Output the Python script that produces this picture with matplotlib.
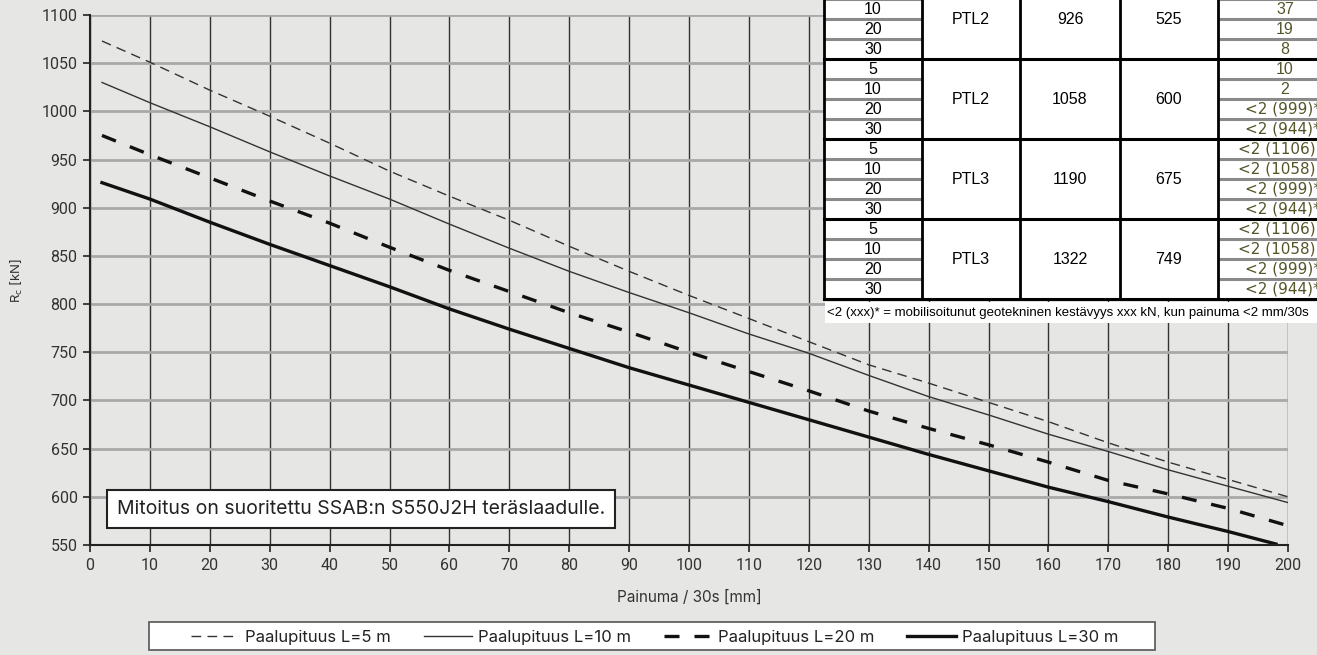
import matplotlib.pyplot as plt
from matplotlib.lines import Line2D
from matplotlib.patches import Rectangle

# painuma / 30s [mm] and R_c [kN]
painuma = [2, 10, 20, 30, 40, 50, 60, 70, 80, 90, 100,
           110, 120, 130, 140, 150, 160, 170, 180, 190, 200]
rc_l5 = [1073, 1051, 1022, 995, 967, 938, 912, 887, 860, 834, 809,
         785, 761, 737, 718, 698, 678, 656, 636, 618, 600]
rc_l10 = [1030, 1009, 984, 958, 933, 909, 883, 858, 834, 812, 791,
          769, 749, 726, 704, 685, 665, 647, 628, 611, 594]
rc_l20 = [975, 955, 931, 907, 884, 859, 835, 813, 791, 771, 750,
          730, 710, 689, 671, 654, 636, 617, 603, 588, 570]
painuma_l30 = [2, 10, 20, 30, 40, 50, 60, 70, 80, 90, 100,
               110, 120, 130, 140, 150, 160, 170, 180, 190, 198]
rc_l30 = [926, 909, 885, 862, 840, 818, 795, 774, 754, 734, 716,
          698, 680, 662, 644, 627, 610, 595, 579, 564, 551]

legend_labels = ['Paalupituus L=5 m', 'Paalupituus L=10 m',
                 'Paalupituus L=20 m', 'Paalupituus L=30 m']

# table (top of it is cut off in the picture)
tbl_pituus = ['5', '10', '20', '30']
tbl_ptl = ['PTL2', 'PTL2', 'PTL3', 'PTL3']
tbl_col3 = ['926', '1058', '1190', '1322']
tbl_col4 = ['525', '600', '675', '749']
tbl_last = [['', '37', '19', '8'],
            ['10', '2', '<2 (999)*', '<2 (944)*'],
            ['<2 (1106)', '<2 (1058)', '<2 (999)*', '<2 (944)*'],
            ['<2 (1106)', '<2 (1058)', '<2 (999)*', '<2 (944)*']]
footnote = '<2 (xxx)* = mobilisoitunut geotekninen kestävyys xxx kN, kun painuma <2 mm/30s'
note = 'Mitoitus on suoritettu SSAB:n S550J2H teräslaadulle.'

W, H = 1317, 655
bg = '#e6e7e4'
plt.rcParams['font.family'] = ['Inter', 'DejaVu Sans']

fig = plt.figure(figsize=(W / 100, H / 100), dpi=100, facecolor=bg)
ax = fig.add_axes([90 / W, (H - 545) / H, (1288 - 90) / W, 530 / H])
ax.set_facecolor(bg)

ax.plot(painuma, rc_l5, color='#333333', lw=1.0, ls=(0, (7, 4.5)))
ax.plot(painuma, rc_l10, color='#333333', lw=1.0)
ax.plot(painuma, rc_l20, color='#111111', lw=2.4, ls=(0, (4.5, 4.5)))
ax.plot(painuma_l30, rc_l30, color='#111111', lw=2.4)

ax.set_xlim(0, 200)
ax.set_ylim(550, 1100)
ax.set_xticks(range(0, 201, 10))
ax.set_yticks(range(550, 1101, 50))
ax.grid(axis='x', color='#333333', lw=1.0)
ax.grid(axis='y', color='#a9a9a9', lw=2.0)
ax.set_axisbelow(True)
for s in ['top', 'right']:
    ax.spines[s].set_visible(False)
for s in ['left', 'bottom']:
    ax.spines[s].set_color('#222222')
    ax.spines[s].set_linewidth(1.5)
ax.tick_params(length=5, width=1.2, color='#222222', labelcolor='#333333', pad=4)
for lab in ax.get_xticklabels() + ax.get_yticklabels():
    lab.set_family(['Roboto', 'DejaVu Sans'])
    lab.set_fontsize(11.5)
ax.set_xlabel('Painuma / 30s [mm]', fontsize=11, color='#333333', labelpad=12)
ax.set_ylabel('R$_\\mathrm{c}$ [kN]', fontsize=9.5, color='#333333', labelpad=12)

# overlay in pixel coordinates for table, note box, footnote and legend frame
tax = fig.add_axes([0, 0, 1, 1])
tax.set_xlim(0, W)
tax.set_ylim(H, 0)
tax.axis('off')
tax.patch.set_alpha(0)

tfont = ['Liberation Sans', 'DejaVu Sans']
x_edges = [824, 922, 1020, 1120, 1218, 1340]
row_h = 20
top = -21
tax.add_patch(Rectangle((x_edges[0], top), x_edges[-1] - x_edges[0], 16 * row_h,
                        fc='white', ec='none', zorder=3))
for g in range(4):
    g_top = top + g * 4 * row_h
    for r in range(1, 4):
        y = g_top + r * row_h
        for x0, x1 in [(x_edges[0], x_edges[1]), (x_edges[4], x_edges[5])]:
            tax.plot([x0, x1], [y, y], color='#8a8a8a', lw=2.2, zorder=4,
                     solid_capstyle='butt')
    for r in range(4):
        yc = g_top + r * row_h + row_h / 2 + 0.5
        tax.text(873, yc, tbl_pituus[r], ha='center', va='center',
                 fontsize=11.5, family=tfont, zorder=5)
        s = tbl_last[g][r]
        if s.startswith('<'):
            xs = 1321 if s.endswith('*') else 1316
            tax.text(xs, yc, s, ha='right', va='center', fontsize=11,
                     family=['DejaVu Sans'], color='#55552a', zorder=5)
        else:
            tax.text(1285, yc, s, ha='center', va='center', fontsize=11.5,
                     family=tfont, color='#55552a', zorder=5)
    gc = g_top + 2 * row_h
    for xc, s in [(971, tbl_ptl[g]), (1070, tbl_col3[g]), (1169, tbl_col4[g])]:
        tax.text(xc, gc, s, ha='center', va='center', fontsize=11.5,
                 family=tfont, zorder=5)
    tax.plot([x_edges[0], x_edges[-1]], [g_top + 4 * row_h] * 2,
             color='black', lw=2.2, zorder=6)
for x in x_edges[:-1]:
    tax.plot([x, x], [top, top + 16 * row_h], color='black', lw=2.0, zorder=6)

tax.add_patch(Rectangle((825, 302), 500, 21, fc='white', ec='none', zorder=3))
tax.text(827, 313, footnote, ha='left', va='center', fontsize=9.5,
         family=tfont, zorder=5)

tax.text(117, 509, note, ha='left', va='center', fontsize=14, color='#222222',
         zorder=5, bbox=dict(boxstyle='square,pad=0.5', fc='white',
                             ec='#222222', lw=1.5))

tax.add_patch(Rectangle((149, 622), 1006, 28, fc='white', ec='#555555',
                        lw=1.2, zorder=3))
handles = [Line2D([], [], color='#333333', lw=1.0, ls=(0, (7, 4.5))),
           Line2D([], [], color='#333333', lw=1.0),
           Line2D([], [], color='#111111', lw=2.4, ls=(0, (4.5, 4.5))),
           Line2D([], [], color='#111111', lw=2.4)]
leg = fig.legend(handles, legend_labels, loc='lower left', ncol=4,
                 bbox_to_anchor=(186 / W, 1 - 650 / H, 937 / W, 28 / H),
                 mode='expand', borderaxespad=0, fontsize=12,
                 frameon=False, handlelength=2.9, handletextpad=0.35,
                 borderpad=0.3)
for t in leg.get_texts():
    t.set_color('#222222')

fig.savefig('out.png', dpi=100, facecolor=bg)
